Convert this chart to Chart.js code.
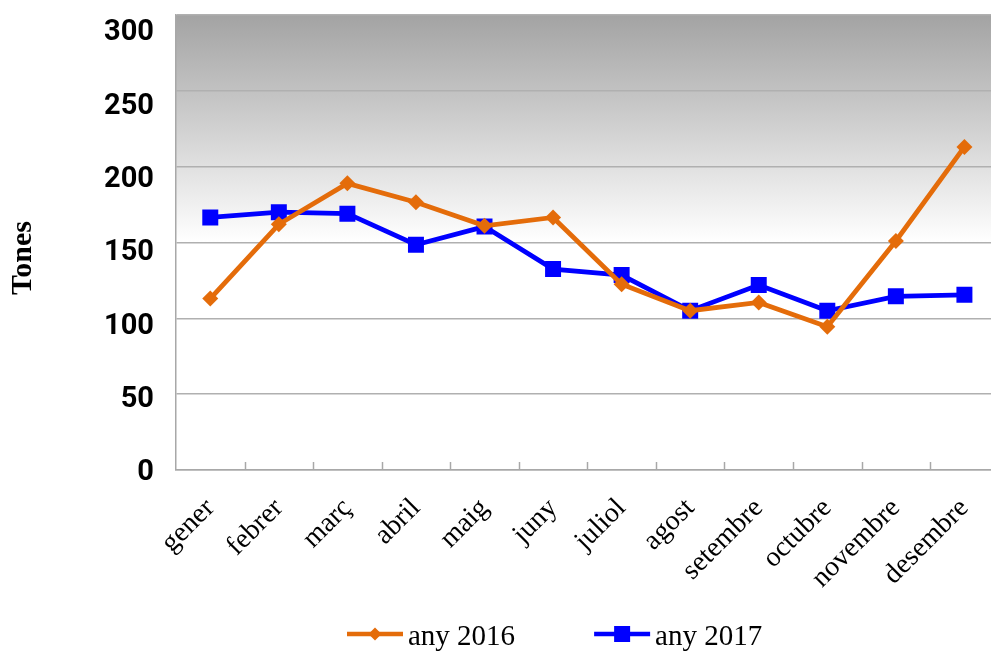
<!DOCTYPE html>
<html>
<head>
<meta charset="utf-8">
<script src="https://cdn.jsdelivr.net/npm/chart.js@4/dist/chart.umd.min.js"></script>
<style>
  html, body { margin:0; padding:0; background:#fff; overflow:hidden; }
  #wrap { width:1010px; height:651px; position:relative; }
</style>
</head>
<body>
<div id="wrap"><canvas id="c" width="1010" height="651"></canvas></div>
<script>
const categories = ['gener','febrer','març','abril','maig','juny','juliol','agost','setembre','octubre','novembre','desembre'];
const series2016 = [113, 162, 189, 176.5, 161, 166.5, 122.5, 105, 110.5, 94.5, 151, 213];
const series2017 = [166.5, 170, 169, 148.5, 160.5, 132.5, 128.5, 105, 122, 105, 114.5, 115.5];
const seriesLabels = ['any 2016', 'any 2017'];
const yTicks = [0, 50, 100, 150, 200, 250, 300];
const yTitle = 'Tones';

const ORANGE = '#E46C0A';
const BLUE = '#0000FF';
const AXIS = '#a8a8a8';

const bgPlugin = {
  id: 'bg',
  beforeDraw(chart) {
    const {ctx, chartArea: a, scales: {y}} = chart;
    const yWhite = y.getPixelForValue(150);
    const g = ctx.createLinearGradient(0, a.top, 0, yWhite);
    g.addColorStop(0, '#a3a3a3');
    g.addColorStop(1, '#ffffff');
    ctx.save();
    ctx.fillStyle = '#ffffff';
    ctx.fillRect(a.left, a.top, a.right - a.left, a.bottom - a.top);
    ctx.fillStyle = g;
    ctx.fillRect(a.left, a.top, a.right - a.left, yWhite - a.top);
    ctx.restore();
  },
  beforeDatasetsDraw(chart) {
    const {ctx, chartArea: a, scales: {x}} = chart;
    ctx.save();
    ctx.strokeStyle = AXIS;
    ctx.lineWidth = 1.5;
    for (let i = 1; i < categories.length; i++) {
      const px = Math.round((x.getPixelForTick(i - 1) + x.getPixelForTick(i)) / 2) + 0.5;
      ctx.beginPath();
      ctx.moveTo(px, a.bottom - 8);
      ctx.lineTo(px, a.bottom);
      ctx.stroke();
    }
    ctx.restore();
  },
  afterDraw(chart) {
    const {ctx} = chart;
    ctx.save();
    ctx.font = 'bold 30px "Liberation Serif", serif';
    ctx.fillStyle = '#000';
    ctx.textAlign = 'center';
    ctx.textBaseline = 'middle';
    ctx.translate(23, 258);
    ctx.rotate(-Math.PI / 2);
    ctx.fillText(yTitle, 0, 0);
    ctx.restore();

    ctx.save();
    ctx.font = '29px "Liberation Serif", serif';
    ctx.textBaseline = 'alphabetic';
    ctx.textAlign = 'left';
    let lx = 347;
    const ly = 634;
    chart.data.datasets.forEach((ds) => {
      ctx.strokeStyle = ds.borderColor;
      ctx.lineWidth = 4.5;
      ctx.beginPath();
      ctx.moveTo(lx, ly);
      ctx.lineTo(lx + 56, ly);
      ctx.stroke();
      ctx.fillStyle = ds.borderColor;
      const cx = lx + 28;
      if (ds.pointStyle === 'rect') {
        ctx.fillRect(cx - 8, ly - 8, 16, 16);
      } else {
        ctx.beginPath();
        ctx.moveTo(cx, ly - 6.5); ctx.lineTo(cx + 6.5, ly); ctx.lineTo(cx, ly + 6.5); ctx.lineTo(cx - 6.5, ly);
        ctx.closePath(); ctx.fill();
      }
      ctx.fillStyle = '#000';
      ctx.fillText(ds.label, lx + 61, ly + 11);
      lx += 61 + ctx.measureText(ds.label).width + 79;
    });
    ctx.restore();
  }
};

new Chart(document.getElementById('c'), {
  type: 'line',
  data: {
    labels: categories,
    datasets: [
      { label: seriesLabels[0], data: series2016, borderColor: ORANGE, backgroundColor: ORANGE,
        borderWidth: 4.8, pointStyle: 'rectRot', pointRadius: 8, pointBorderWidth: 0, tension: 0, fill: false },
      { label: seriesLabels[1], data: series2017, borderColor: BLUE, backgroundColor: BLUE,
        borderWidth: 4.8, pointStyle: 'rect', pointRadius: 11.3, pointBorderWidth: 0, tension: 0, fill: false }
    ]
  },
  options: {
    responsive: false,
    animation: false,
    layout: { padding: { left: 0, right: 6, top: 15, bottom: 0 } },
    plugins: { legend: { display: false }, tooltip: { enabled: false } },
    scales: {
      x: {
        offset: true,
        grid: { display: false, drawTicks: false },
        border: { display: true, color: AXIS, width: 1.5 },
        ticks: {
          autoSkip: false, minRotation: 45, maxRotation: 45, padding: 22,
          color: '#000', font: { family: '"Liberation Serif", serif', size: 28 }
        },
        afterFit(scale) { scale.height = 181; scale.paddingLeft = 0; scale.paddingRight = 0; }
      },
      y: {
        position: 'left', weight: 0,
        min: 0, max: 300,
        grid: { color: '#b0b0b0', lineWidth: 1.5, drawTicks: false },
        border: { display: true, color: AXIS, width: 1.5 },
        afterBuildTicks(scale) { scale.ticks = yTicks.map(v => ({ value: v })); },
        ticks: { display: false },
        afterFit(scale) { scale.width = 0; scale.paddingTop = 0; scale.paddingBottom = 0; }
      },
      yLabels: {
        position: 'left', weight: 1,
        min: 2.05, max: 312.25,
        grid: { display: false, drawTicks: false },
        border: { display: false },
        afterBuildTicks(scale) { scale.ticks = yTicks.map(v => ({ value: v })); },
        ticks: {
          padding: 22, color: '#000',
          font: { family: 'Roboto, "Liberation Sans", sans-serif', size: 29, weight: 'bold' }
        },
        afterFit(scale) { scale.width = 176; scale.paddingTop = 0; scale.paddingBottom = 0; }
      }
    }
  },
  plugins: [bgPlugin]
});
</script>
</body>
</html>
